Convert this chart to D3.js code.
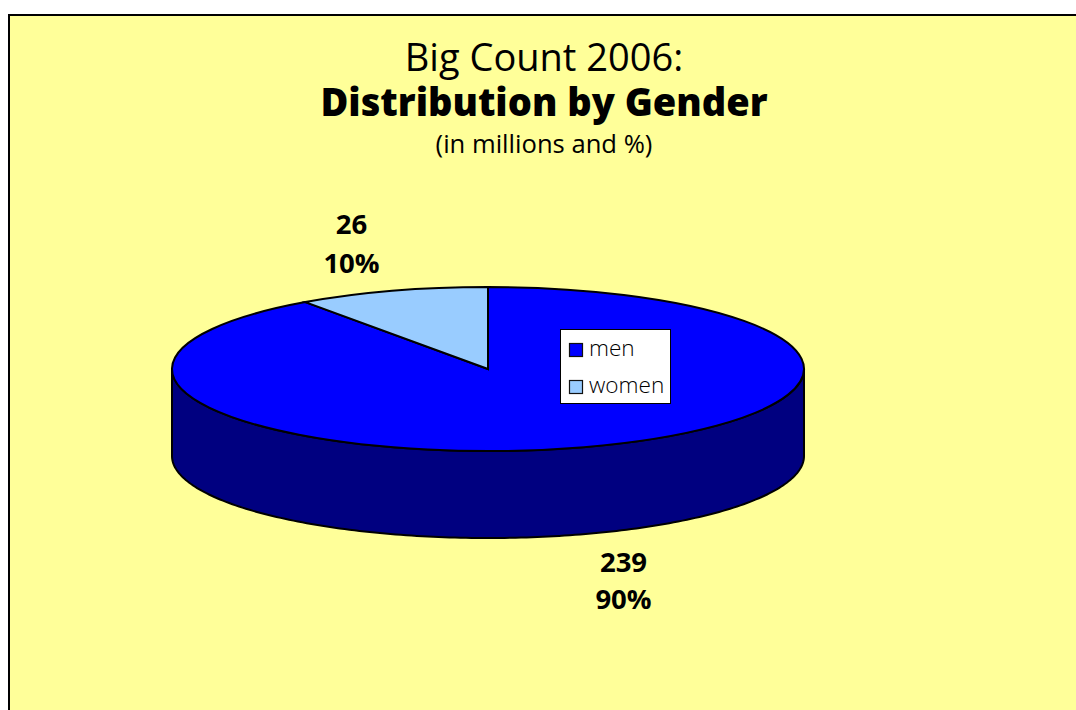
<!DOCTYPE html>
<html>
<head>
<meta charset="utf-8">
<script src="https://cdn.jsdelivr.net/npm/d3@7"></script>
<style>
html,body{margin:0;padding:0;background:#fff;overflow:hidden}
svg{display:block}
text{font-family:"Open Sans","Noto Sans",sans-serif;fill:#000}
</style>
</head>
<body>
<svg id="c" width="1076" height="710"></svg>
<script>
const categories = ["men", "women"];
const millions = [239, 26];
const percents = ["90%", "10%"];
const sliceColors = ["#0000ff", "#99ccff"];
const wallColor = "#000080";
const titleLines = ["Big Count 2006:", "Distribution by Gender", "(in millions and %)"];

const svg = d3.select("#c");
const cx = 488, cy = 369, rx = 316, ry = 82, depth = 87;

svg.append("rect").attr("x", 9).attr("y", 15).attr("width", 1080).attr("height", 710)
  .attr("fill", "#ffff99").attr("stroke", "#000").attr("stroke-width", 2);

// side wall
const front = d3.range(90, 270.5, 1).map(d => d * Math.PI / 180);
const wall = d3.area()
  .x(a => cx + rx * Math.sin(a))
  .y0(a => cy - ry * Math.cos(a))
  .y1(a => cy - ry * Math.cos(a) + depth);
svg.append("path").attr("d", wall(front)).attr("fill", wallColor)
  .attr("stroke", "#000").attr("stroke-width", 2);

// top face
const pie = d3.pie().sort(null).startAngle(0).endAngle(2 * Math.PI);
const arc = d3.arc().innerRadius(0).outerRadius(rx);
svg.append("g").attr("transform", `translate(${cx},${cy}) scale(1,${ry / rx})`)
  .selectAll("path").data(pie(millions)).join("path")
  .attr("d", arc).attr("fill", (d, i) => sliceColors[i])
  .attr("stroke", "#000").attr("stroke-width", 2)
  .style("vector-effect", "non-scaling-stroke");

// titles
const title = svg.append("g").attr("text-anchor", "middle");
title.append("text").attr("x", 544).attr("y", 71).attr("font-size", 38).text(titleLines[0]);
title.append("text").attr("x", 544).attr("y", 116).attr("font-size", 38).attr("font-weight", 800).text(titleLines[1]);
title.append("text").attr("x", 544).attr("y", 153).attr("font-size", 25.6).text(titleLines[2]);

// data labels
const labelPos = [[623.5, 572, 609], [351.5, 234, 273]];
millions.forEach((m, i) => {
  const g = svg.append("g").attr("text-anchor", "middle").attr("font-size", 27.5).attr("font-weight", 700);
  g.append("text").attr("x", labelPos[i][0]).attr("y", labelPos[i][1]).text(m);
  g.append("text").attr("x", labelPos[i][0]).attr("y", labelPos[i][2]).text(percents[i]);
});

// legend
svg.append("rect").attr("x", 560.5).attr("y", 329.5).attr("width", 110).attr("height", 74)
  .attr("fill", "#fff").attr("stroke", "#000").attr("stroke-width", 1);
categories.forEach((c, i) => {
  const y = 350 + i * 37;
  svg.append("rect").attr("x", 569.5).attr("y", y - 6.5).attr("width", 13).attr("height", 13)
    .attr("fill", sliceColors[i]).attr("stroke", "#111").attr("stroke-width", 1.2);
  svg.append("text").attr("x", 589).attr("y", y + 6).attr("font-size", 22.6).attr("font-weight", 300).text(c);
});
</script>
</body>
</html>
